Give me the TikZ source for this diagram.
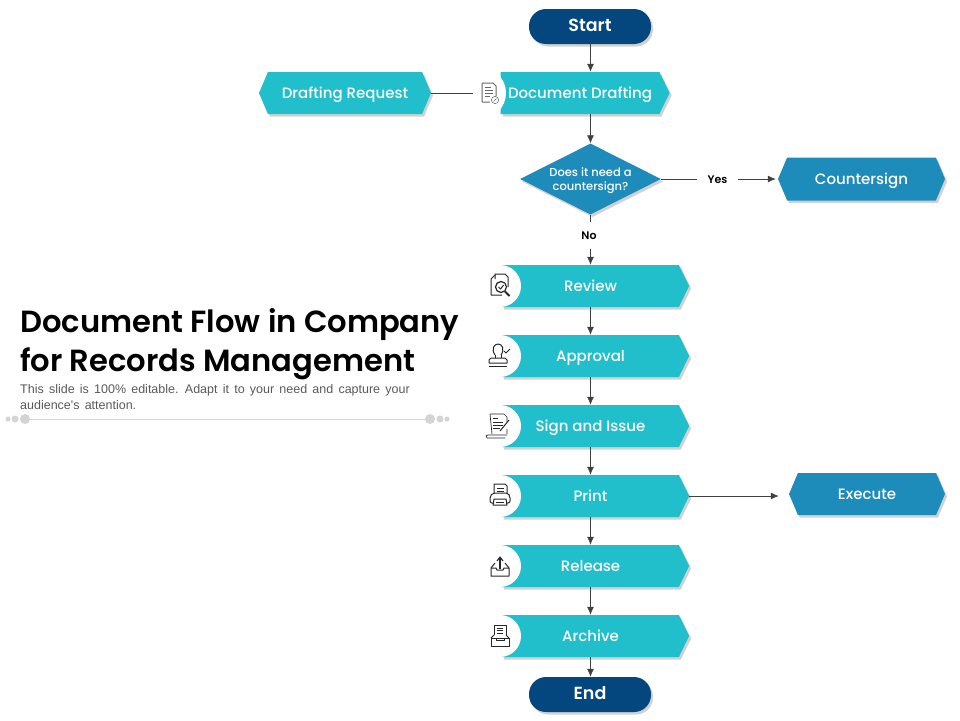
\documentclass[tikz,border=0pt]{standalone}
\usepackage{fontspec}
\setmainfont{Poppins Medium}
\newfontfamily\semifont{Poppins SemiBold}
\newfontfamily\bodyfont[WordSpace=1.5]{Liberation Sans}
\usetikzlibrary{shapes.geometric, shapes.symbols, shadows, arrows.meta}
\definecolor{stepteal}{HTML}{21BFCB}
\definecolor{sideblue}{HTML}{1E8CBB}
\definecolor{endnavy}{HTML}{04477E}
\definecolor{edgegray}{HTML}{404040}
\definecolor{rulegray}{HTML}{D4D4D4}
\tikzset{
    softshadow/.style={general shadow={shadow xshift=2pt, shadow yshift=-2.5pt, fill=black, opacity=0.18}},
    boxtext/.style={text=white, font=\fontsize{15}{18}\selectfont, text height=13pt, text depth=2.5pt, inner xsep=0pt, inner ysep=0pt},
    stepbox/.style={shape=signal, signal to=east, signal pointer angle=128, fill=stepteal, softshadow, boxtext, minimum height=42pt},
    sidebox/.style={shape=signal, signal to=east and west, signal pointer angle=134, softshadow, boxtext},
    terminal/.style={rectangle, rounded corners=17pt, fill=endnavy, text=white, minimum width=122pt,
        minimum height=35pt, font=\fontsize{17.5}{20}\semifont, text height=13pt, text depth=3pt, softshadow},
    disc/.style={circle, fill=white, minimum size=42pt, inner sep=0pt},
    flow/.style={draw=edgegray, line width=0.8pt, -{Latex[length=8pt, width=7pt]}},
    plain/.style={draw=edgegray, line width=0.8pt},
    small/.style={font=\fontsize{11}{13}\semifont, text=black, inner sep=0pt, text height=8pt, text depth=0pt},
    dot/.style={circle, fill=rulegray, inner sep=0pt},
    icon/.style={draw=black!85, line width=1pt, line join=round},
    pics/reviewicon/.style={code={
        \draw[icon] (-5,-7) -- (-5,-12) -- (5,-12) -- (8,-9) -- (8,1);
        \draw[icon] (-9,-7) -- (-5,-11) (-9,-7) -- (-9,9) -- (2,9);
        \draw[icon, line width=1.2pt] (1,1) circle (5.5);
        \draw[icon] (-1.5,1) -- (0.5,3) -- (3.5,-1);
        \draw[icon, line width=1.8pt] (5,5.5) -- (9.5,10);
    }},
    pics/stampicon/.style={code={
        \draw[icon] (-5,-1) .. controls (-9,-7) and (-6,-12) .. (-2,-12) .. controls (2,-12) and (5,-7) .. (1,-1);
        \draw[icon] (-5,-1) -- (-5,2) (1,-1) -- (1,2);
        \draw[icon] (-11,7) -- (-11,4) -- (-9,2) -- (5,2) -- (7,4) -- (7,7) -- cycle;
        \draw[icon] (-11,10) -- (7,10);
        \draw[icon] (4,-5) -- (6,-3) -- (10,-7);
    }},
    pics/signicon/.style={code={
        \draw[icon, line width=0.7pt] (-10,-12) -- (4,-12) -- (7,-9) -- (7,-4);
        \draw[icon, line width=0.7pt] (-10,-12) -- (-8,8) (7,3) -- (7,8);
        \draw[icon, line width=0.7pt] (-13,12) -- (5,12) (-13,12) .. controls (-15,10) and (-14,9) .. (-12,9) -- (7,9);
        \draw[icon, line width=0.5pt] (-7,-8) -- (-2,-8) (-7,-4) -- (3,-4) (-7,-1) -- (3,-1) (-7,2) -- (0,2);
        \draw[icon] (0,5) -- (9,-6);
    }},
    pics/printicon/.style={code={
        \draw[icon] (-6,-3) -- (-6,-12) -- (5,-12) -- (7,-10) -- (7,-3);
        \draw[icon, line width=0.5pt] (-3,-8) -- (4,-8) (-3,-5) -- (4,-5);
        \draw[icon, rounded corners=2pt] (-6,7) -- (-10,7) -- (-10,0) -- (-7,-3) -- (8,-3) -- (10,0) -- (10,7) -- (6,7);
        \draw[icon] (-6,3) -- (6,3) -- (7,9) -- (-7,9) -- cycle;
        \draw[icon, line width=0.5pt] (-4,6) -- (4,6);
    }},
    pics/releaseicon/.style={code={
        \draw[icon] (-9,2) -- (-9,10) -- (9,10) -- (9,2) -- (5,-3) (-9,2) -- (-5,-3);
        \draw[icon] (-9,2) -- (-4,2) -- (-3,4) -- (3,4) -- (4,2) -- (9,2);
        \draw[icon, line width=1.1pt] (0,3) -- (0,-9);
        \draw[icon, line width=1.1pt] (-3,-5) -- (0,-9) -- (3,-5);
    }},
    pics/archiveicon/.style={code={
        \draw[icon] (-6,-1) -- (-6,-11) -- (6,-11) -- (6,-1);
        \draw[icon, line width=0.6pt] (-3,-8) -- (3,-8) (-3,-5.5) -- (3,-5.5) (-3,-3) -- (3,-3);
        \draw[icon] (-9,2) -- (-9,10) -- (9,10) -- (9,2) -- cycle;
        \draw[icon] (-9,2) -- (-6,-1) (9,2) -- (6,-1);
        \draw[icon, line width=0.6pt] (-4,2) -- (-4,4) -- (4,4) -- (4,2);
    }},
    pics/drafticon/.style={code={
        \draw[icon, draw=black!60] (-7,-10) -- (4,-10) -- (7,-7) -- (7,3) (-7,-10) -- (-7,9) -- (1,9);
        \draw[icon, draw=black!60, line width=1pt] (-4,-6) -- (2,-6) (-4,-3) -- (4,-3) (-4,0) -- (4,0) (-4,3) -- (1,3);
        \draw[icon, draw=black!60, line width=0.5pt] (6,7) circle (3.6);
        \draw[icon, draw=black!60, line width=0.5pt] (4.5,8.5) -- (7.5,5.5);
    }}
}
\begin{document}
\begin{tikzpicture}[x=1pt, y=-1pt]
    \useasboundingbox (0,0) rectangle (960,720);

    %title
    \node[anchor=west, inner sep=0pt, font=\fontsize{30.6}{39}\semifont, align=left] (title) at (20,344.5)
        {Document Flow in Company\\for Records Management};
    \node[anchor=north west, inner sep=0pt, font=\bodyfont\fontsize{12.5}{16.5}\selectfont, text=black!65, align=left] (intro) at (20,384)
        {This slide is 100\% editable. Adapt it to your need and capture your\\audience's attention.};

    %rule
    \node[dot, minimum size=10pt] (ruleleft) at (25,419) {};
    \node[dot, minimum size=7pt] (ruleleftb) at (15,419) {};
    \node[dot, minimum size=5pt] (ruleleftc) at (8,419) {};
    \node[dot, minimum size=10pt] (ruleright) at (430,419) {};
    \node[dot, minimum size=7pt] (rulerightb) at (440,419) {};
    \node[dot, minimum size=5pt] (rulerightc) at (447,419) {};
    \draw[rulegray, line width=0.8pt] (ruleleft) -- (ruleright);

    %nodes
    \node[terminal] (start) at (590,26.5) {Start};
    \node[sidebox, fill=stepteal, minimum width=172pt, minimum height=42pt] (request) at (345,93) {Drafting Request};
    \node[stepbox, minimum width=169pt] (draft) at (580,93) {Document Drafting};
    \node[disc, minimum size=52pt] (draftdisc) at (480,93) {};
    \node[inner sep=0pt, minimum width=32pt, minimum height=20pt] (drafticon) at (489,93) {};
    \pic at (drafticon.center) {drafticon};

    \node[diamond, aspect=2, fill=sideblue, minimum width=141pt, minimum height=71pt, inner sep=0pt, text=white,
        font=\fontsize{11.5}{14}\selectfont, softshadow] (need) at (590.5,179)
        {\raisebox{-4.5pt}[0pt][0pt]{\begin{tabular}{@{}c@{}}Does it need a\\countersign?\end{tabular}}};
    \node[small, minimum width=41pt] (yes) at (717.5,179) {Yes};
    \node[small, minimum height=26pt] (no) at (589,235.5) {No};
    \node[sidebox, fill=sideblue, minimum width=167pt, minimum height=43pt] (countersign) at (861.5,179) {Countersign};

    \node[stepbox, minimum width=187pt] (review) at (590.5,286) {Review};
    \node[disc] (reviewdisc) at (500,286) {};
    \pic at (reviewdisc.center) {reviewicon};
    \node[stepbox, minimum width=187pt] (approval) at (590.5,356) {Approval};
    \node[disc] (approvaldisc) at (500,356) {};
    \pic at (approvaldisc.center) {stampicon};
    \node[stepbox, minimum width=187pt] (sign) at (590.5,426) {Sign and Issue};
    \node[disc] (signdisc) at (500,426) {};
    \pic at (signdisc.center) {signicon};
    \node[stepbox, minimum width=187pt] (print) at (590.5,496) {Print};
    \node[disc] (printdisc) at (500,496) {};
    \pic at (printdisc.center) {printicon};
    \node[stepbox, minimum width=187pt] (release) at (590.5,566) {Release};
    \node[disc] (releasedisc) at (500,566) {};
    \pic at (releasedisc.center) {releaseicon};
    \node[stepbox, minimum width=187pt] (archive) at (590.5,636) {Archive};
    \node[disc] (archivedisc) at (500,636) {};
    \pic at (archivedisc.center) {archiveicon};

    \node[sidebox, fill=sideblue, minimum width=156pt, minimum height=42pt] (execute) at (867,494) {Execute};
    \node[terminal] (end) at (590,694.5) {End};

    %edges
    \draw[flow] (start.south -| need.north) -- (need.north |- draft.north);
    \draw[plain] (request.east) -- (drafticon.west);
    \draw[flow] (need.north |- draft.south) -- (need.north);
    \draw[plain] (need.east) -- (yes.west);
    \draw[flow, shorten >=2pt] (yes.east) -- (countersign.west);
    \draw[plain] (need.south) -- (no.north -| need.south);
    \draw[flow] (no.south -| need.south) -- (need.south |- review.north);
    \draw[flow] (need.south |- review.south) -- (need.south |- approval.north);
    \draw[flow] (need.south |- approval.south) -- (need.south |- sign.north);
    \draw[flow] (need.south |- sign.south) -- (need.south |- print.north);
    \draw[flow] (need.south |- print.south) -- (need.south |- release.north);
    \draw[flow] (need.south |- release.south) -- (need.south |- archive.north);
    \draw[flow] (need.south |- archive.south) -- (need.south |- end.north);
    \draw[flow, shorten >=10pt] (print.east) -- (execute.west |- print.east);
\end{tikzpicture}
\end{document}
